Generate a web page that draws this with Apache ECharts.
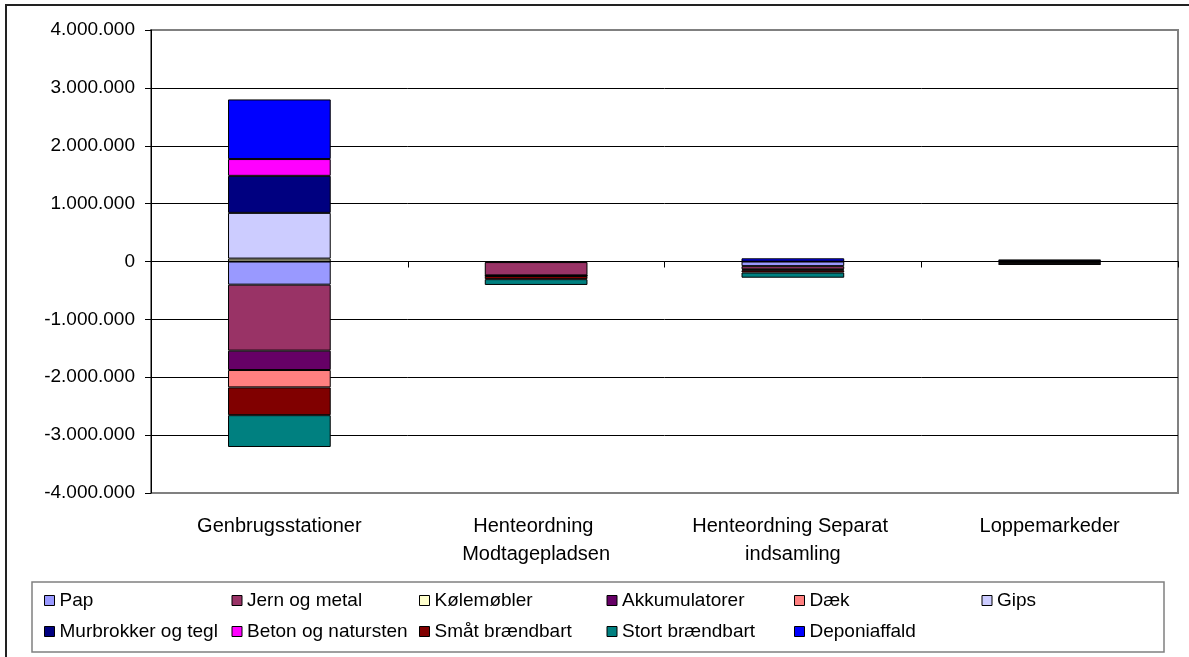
<!DOCTYPE html>
<html>
<head>
<meta charset="utf-8">
<script src="https://cdn.jsdelivr.net/npm/echarts@6/dist/echarts.min.js"></script>
<style>
  html, body { margin: 0; padding: 0; background: #fff; }
  #chart { width: 1189px; height: 657px; }
</style>
</head>
<body>
<div id="chart"></div>
<script>
// kategorier (x-akse)
const categories = ['Genbrugsstationer', 'Henteordning Modtagepladsen', 'Henteordning Separat indsamling', 'Loppemarkeder'];

// værdier pr. fraktion (negative = under nul)
const pap = [-400000, -10000, -80000, -25000];
const jernOgMetal = [-1140000, -230000, -55000, -35000];
const koelemoebler = [50000, null, null, null];
const akkumulatorer = [-335000, -5000, -15000, null];
const daek = [-300000, -5000, null, null];
const gips = [790000, null, null, 10000];
const murbrokker = [640000, null, null, null];
const beton = [290000, null, null, null];
const smaatBraendbart = [-480000, -55000, -40000, null];
const stortBraendbart = [-550000, -100000, -90000, null];
const deponiaffald = [1030000, null, 55000, 25000];

// y-akse
const yMin = -4000000;
const yMax = 4000000;
const yStep = 1000000;

const seriesDefs = [
  { name: 'Pap', data: pap, color: '#9999FF' },
  { name: 'Jern og metal', data: jernOgMetal, color: '#993366' },
  { name: 'Kølemøbler', data: koelemoebler, color: '#FFFFCC' },
  { name: 'Akkumulatorer', data: akkumulatorer, color: '#660066' },
  { name: 'Dæk', data: daek, color: '#FF8080' },
  { name: 'Gips', data: gips, color: '#CCCCFF' },
  { name: 'Murbrokker og tegl', data: murbrokker, color: '#000080' },
  { name: 'Beton og natursten', data: beton, color: '#FF00FF' },
  { name: 'Småt brændbart', data: smaatBraendbart, color: '#800000' },
  { name: 'Stort brændbart', data: stortBraendbart, color: '#008080' },
  { name: 'Deponiaffald', data: deponiaffald, color: '#0000FF' }
];

function fmt(v) {
  const s = String(Math.abs(v)).replace(/\B(?=(\d{3})+(?!\d))/g, '.');
  return v < 0 ? '-' + s : s;
}

const FONT = '"Liberation Sans", Arial, sans-serif';

const chart = echarts.init(document.getElementById('chart'));
chart.setOption({
  animation: false,
  backgroundColor: '#fff',
  textStyle: { fontFamily: FONT, color: '#000' },
  graphic: [{
    type: 'rect',
    shape: { x: 6, y: 5, width: 1200, height: 700 },
    style: { fill: 'none', stroke: '#222', lineWidth: 2 },
    silent: true
  }],
  grid: {
    left: 151,
    top: 30,
    right: 11,
    bottom: 164,
    show: true,
    borderColor: '#808080',
    borderWidth: 2,
    containLabel: false,
    outerBoundsMode: 'none'
  },
  legend: {
    left: 32,
    top: 582,
    width: 1125,
    orient: 'horizontal',
    padding: [8, 5, 10, 12],
    itemGap: 10,
    itemWidth: 10,
    itemHeight: 10,
    icon: 'rect',
    borderColor: '#808080',
    borderWidth: 1.5,
    itemStyle: { borderColor: '#000', borderWidth: 1 },
    textStyle: {
      fontFamily: FONT,
      fontSize: 19,
      color: '#000',
      width: 162,
      lineHeight: 21,
      overflow: 'none'
    },
    data: seriesDefs.map(s => s.name)
  },
  xAxis: [{
    type: 'category',
    data: categories,
    axisLine: { onZero: true, lineStyle: { color: '#000', width: 1 } },
    axisTick: { show: true, length: 6, lineStyle: { color: '#000' } },
    axisLabel: { show: false },
    splitLine: { show: false }
  }, {
    type: 'category',
    data: categories,
    position: 'bottom',
    axisLine: { show: false, onZero: false },
    axisTick: { show: false },
    axisLabel: {
      fontFamily: FONT,
      fontSize: 20,
      color: '#000',
      margin: 19,
      lineHeight: 28,
      width: 235,
      overflow: 'break',
      interval: 0
    },
    splitLine: { show: false }
  }],
  yAxis: {
    type: 'value',
    min: yMin,
    max: yMax,
    interval: yStep,
    axisLine: { show: true, lineStyle: { color: '#000', width: 1 } },
    axisTick: { show: true, length: 6, lineStyle: { color: '#000' } },
    axisLabel: {
      fontFamily: FONT,
      fontSize: 19,
      color: '#000',
      margin: 16,
      formatter: fmt
    },
    splitLine: {
      show: true,
      showMaxLine: false,
      showMinLine: false,
      lineStyle: { color: '#000', width: 1 }
    }
  },
  series: seriesDefs.map(s => ({
    name: s.name,
    type: 'bar',
    stack: 'total',
    xAxisIndex: 0,
    barWidth: '40%',
    data: s.data,
    itemStyle: { color: s.color, borderColor: '#000', borderWidth: 1 },
    emphasis: { disabled: true }
  }))
});
</script>
</body>
</html>
